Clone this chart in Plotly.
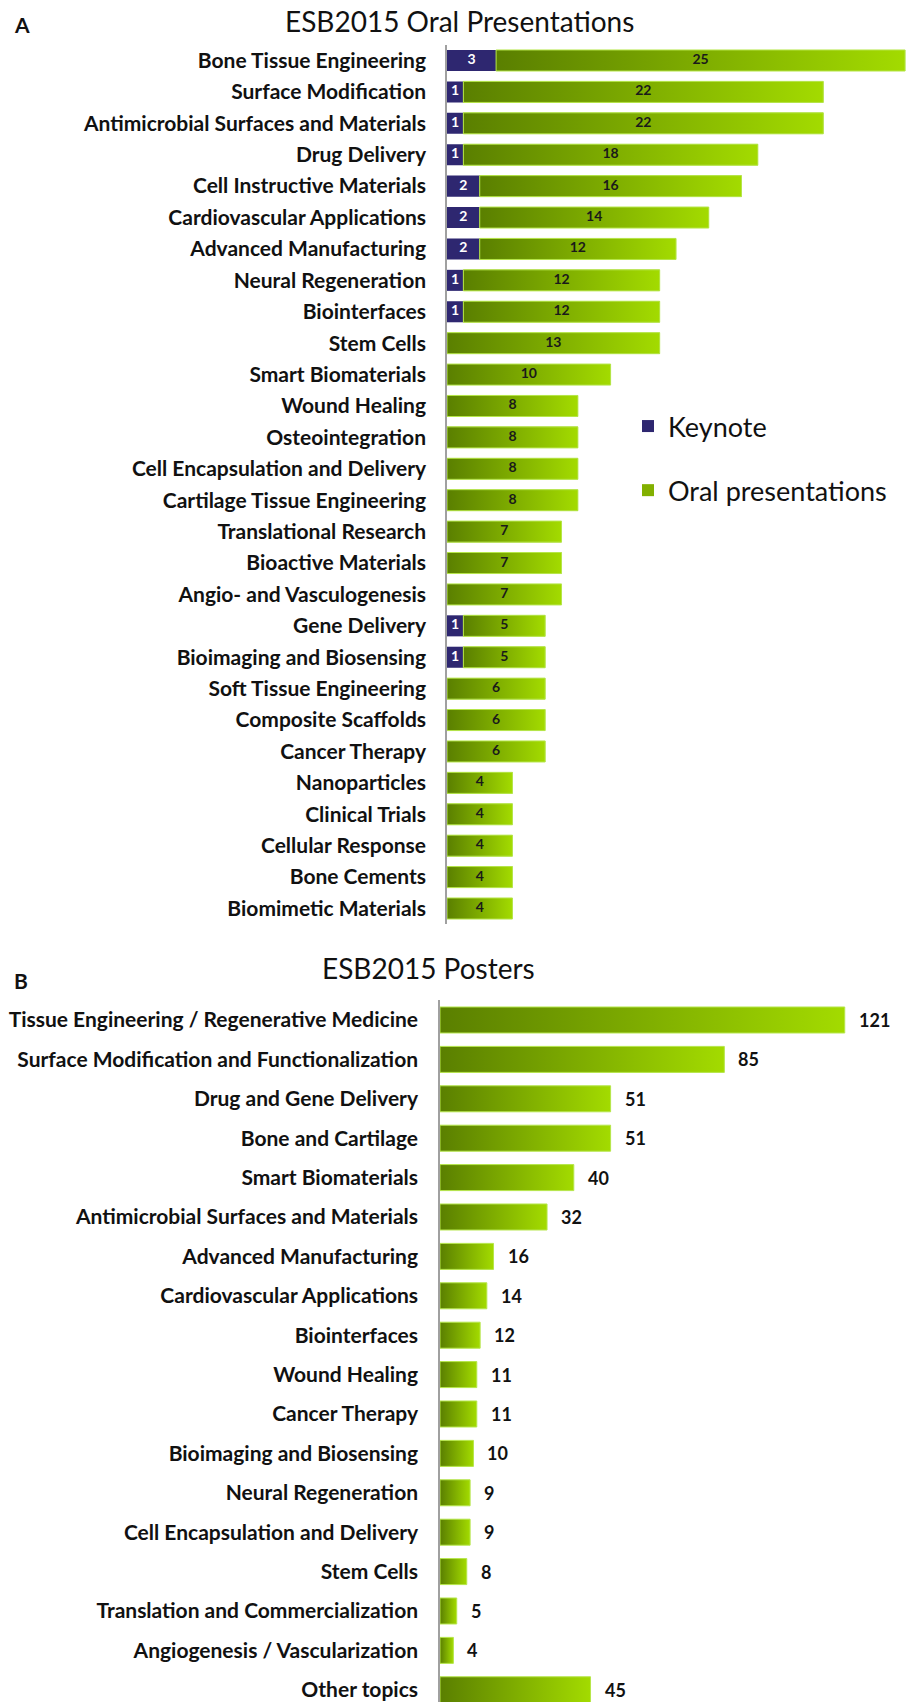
import plotly.graph_objects as go

oral_topics = [
    "Bone Tissue Engineering", "Surface Modification", "Antimicrobial Surfaces and Materials",
    "Drug Delivery", "Cell Instructive Materials", "Cardiovascular Applications",
    "Advanced Manufacturing", "Neural Regeneration", "Biointerfaces", "Stem Cells",
    "Smart Biomaterials", "Wound Healing", "Osteointegration", "Cell Encapsulation and Delivery",
    "Cartilage Tissue Engineering", "Translational Research", "Bioactive Materials",
    "Angio- and Vasculogenesis", "Gene Delivery", "Bioimaging and Biosensing",
    "Soft Tissue Engineering", "Composite Scaffolds", "Cancer Therapy", "Nanoparticles",
    "Clinical Trials", "Cellular Response", "Bone Cements", "Biomimetic Materials",
]
keynote = [3, 1, 1, 1, 2, 2, 2, 1, 1, 0, 0, 0, 0, 0, 0, 0, 0, 0, 1, 1, 0, 0, 0, 0, 0, 0, 0, 0]
oral = [25, 22, 22, 18, 16, 14, 12, 12, 12, 13, 10, 8, 8, 8, 8, 7, 7, 7, 5, 5, 6, 6, 6, 4, 4, 4, 4, 4]

poster_topics = [
    "Tissue Engineering / Regenerative Medicine", "Surface Modification and Functionalization",
    "Drug and Gene Delivery", "Bone and Cartilage", "Smart Biomaterials",
    "Antimicrobial Surfaces and Materials", "Advanced Manufacturing", "Cardiovascular Applications",
    "Biointerfaces", "Wound Healing", "Cancer Therapy", "Bioimaging and Biosensing",
    "Neural Regeneration", "Cell Encapsulation and Delivery", "Stem Cells",
    "Translation and Commercialization", "Angiogenesis / Vascularization", "Other topics",
]
posters = [121, 85, 51, 51, 40, 32, 16, 14, 12, 11, 11, 10, 9, 9, 8, 5, 4, 45]

NAVY = "#2e2770"
DARK = "#5a7f00"
MID = "#82b000"
LIGHT = "#a3db00"
EDGE = "#b6e64a"
FONT = "Lato"
W, H = 914, 1702


def gradient_bars(fig, starts, lengths, half, xref, yref):
    # one closed polygon per bar so each gets its own left-to-right gradient
    for i, (s, L) in enumerate(zip(starts, lengths)):
        fig.add_trace(go.Scatter(
            x=[s, s + L, s + L, s, s],
            y=[i - half, i - half, i + half, i + half, i - half],
            mode="lines", fill="toself",
            fillgradient=dict(type="horizontal", colorscale=[[0, DARK], [1, LIGHT]]),
            line=dict(color=EDGE, width=1),
            showlegend=False, hoverinfo="skip",
            xaxis=xref, yaxis=yref,
        ))


fig = go.Figure()

idx_a = list(range(len(oral_topics)))
idx_b = list(range(len(poster_topics)))

# Panel A
fig.add_trace(go.Bar(
    y=idx_a, x=keynote, orientation="h", width=0.67, name="Keynote",
    marker=dict(color=NAVY, line=dict(width=0)), legendgroup="k",
))
fig.add_trace(go.Bar(
    y=idx_a, x=oral, base=keynote, orientation="h", width=0.67, name="Oral presentations",
    marker=dict(color=MID, line=dict(width=0)), legendgroup="o",
))
gradient_bars(fig, keynote, oral, 0.335, "x", "y")
fig.add_trace(go.Scatter(
    x=[k / 2 for k in keynote], y=idx_a, mode="text",
    text=[str(k) if k else "" for k in keynote],
    textfont=dict(family=FONT, size=14, color="white", weight="bold"),
    showlegend=False, hoverinfo="skip",
))
fig.add_trace(go.Scatter(
    x=[k + o / 2 for k, o in zip(keynote, oral)], y=idx_a, mode="text",
    text=[str(o) for o in oral],
    textfont=dict(family=FONT, size=14, color="#1a1a1a", weight="bold"),
    showlegend=False, hoverinfo="skip",
))

# Panel B
gradient_bars(fig, [0] * len(posters), posters, 0.33, "x2", "y2")
for i, v in enumerate(posters):
    fig.add_annotation(
        x=v, y=i, xref="x2", yref="y2", text=str(v), showarrow=False,
        xanchor="left", xshift=12,
        font=dict(family=FONT, size=18, color="#111", weight="bold"),
    )

# titles and panel letters
fig.add_annotation(x=460 / W, y=1 - 21 / H, xref="paper", yref="paper", text="ESB2015 Oral Presentations",
                   showarrow=False, yanchor="middle", font=dict(family=FONT, size=28, color="#111"))
fig.add_annotation(x=428 / W, y=1 - 968 / H, xref="paper", yref="paper", text="ESB2015 Posters",
                   showarrow=False, yanchor="middle", font=dict(family=FONT, size=28, color="#111"))
fig.add_annotation(x=12 / W, y=1 - 24 / H, xref="paper", yref="paper", text="A", xanchor="left",
                   yanchor="middle", showarrow=False,
                   font=dict(family=FONT, size=21, color="#111", weight="bold"))
fig.add_annotation(x=12 / W, y=1 - 980 / H, xref="paper", yref="paper", text="B", xanchor="left",
                   yanchor="middle", showarrow=False,
                   font=dict(family=FONT, size=21, color="#111", weight="bold"))

tickfont = dict(family=FONT, size=21, color="#111", weight="bold")
fig.update_layout(
    width=W, height=H,
    margin=dict(l=0, r=0, t=0, b=0),
    paper_bgcolor="white", plot_bgcolor="white",
    barmode="overlay",
    showlegend=True,
    legend=dict(
        x=628 / W, y=1 - 402 / H, xanchor="left", yanchor="top",
        font=dict(family=FONT, size=27, color="#111"),
        tracegroupgap=26, bgcolor="rgba(0,0,0,0)",
    ),
    xaxis=dict(domain=[447 / W, 1], range=[0, (W - 447) / 16.36], visible=False, fixedrange=True),
    yaxis=dict(
        domain=[1 - 924.2 / H, 1 - 44.8 / H], range=[27.5, -0.5],
        tickvals=idx_a, ticktext=oral_topics, tickfont=tickfont,
        showline=True, linecolor="#a0a0a0", linewidth=1.5, showgrid=False, zeroline=False,
        ticks="", ticklabelstandoff=15,
    ),
    xaxis2=dict(domain=[440 / W, 1], range=[0, (W - 440) / 3.345], visible=False, anchor="y2"),
    yaxis2=dict(
        domain=[0, 1 - 1000.3 / H], range=[17.31, -0.5], anchor="x2",
        tickvals=idx_b, ticktext=poster_topics, tickfont=tickfont,
        showline=True, linecolor="#a0a0a0", linewidth=1.5, showgrid=False, zeroline=False,
        ticks="", ticklabelstandoff=16,
    ),
)

fig.write_html("out.html", config={"displayModeBar": False},
               post_script="document.body.style.margin='0';")
